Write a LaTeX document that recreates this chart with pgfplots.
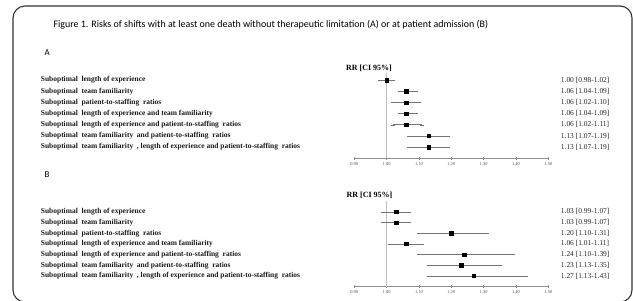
\documentclass[border=0pt]{standalone}
\usepackage{pgfplots}
\pgfplotsset{compat=1.18}
\usepackage{pgfplotstable}
\usepackage{fontspec}
\setmainfont{Liberation Serif}
\newfontfamily\calibri{Carlito}

\pgfplotstableread{
row rr lo hi
-1 1.00 0.98 1.02
-2 1.06 1.04 1.09
-3 1.06 1.02 1.10
-4 1.06 1.04 1.09
-5 1.06 1.02 1.11
-6 1.13 1.07 1.19
-7 1.13 1.07 1.19
}\dataA
\pgfplotstableread{
row rr lo hi
-1 1.03 0.99 1.07
-2 1.03 0.99 1.07
-3 1.20 1.10 1.31
-4 1.06 1.01 1.11
-5 1.24 1.10 1.39
-6 1.23 1.13 1.35
-7 1.27 1.13 1.43
}\dataB

\pgfplotsset{
  forest/.style={
    scale only axis, width=194bp,
    xmin=0.9, xmax=1.5, ymin=-8,
    clip=false,
    axis x line=bottom, axis y line=none,
    x axis line style={-, draw=black!45, line width=0.6bp},
    xtick={0.9,1.0,1.1,1.2,1.3,1.4,1.5},
    xticklabel style={font=\fontsize{4.5}{5}\selectfont, text=black!70, /pgf/number format/.cd, fixed, fixed zerofill, precision=2},
    /pgf/number format/assume math mode=true,
    major tick length=2.5bp, tick align=center,
    tick style={draw=black!45, line width=0.5bp},
    xticklabel shift=-1bp,
  },
  fp/.style={only marks, mark=square*, mark size=1.7bp, black,
    error bars/.cd, x dir=both, x explicit,
    error bar style={black!55, line width=0.6bp},
    error mark options={black!55, line width=0.5bp, mark size=2bp}},
}

\begin{document}
\begin{tikzpicture}[x=1bp,y=1bp]
\path[use as bounding box] (0,0) rectangle (633,-300);
\begin{scope}
\clip (0,0) rectangle (633,-300);
\draw[line width=1.1bp, draw=black!80, rounded corners=12bp] (13,-6) rectangle (632,-302);
\end{scope}

\node[anchor=west, font=\calibri\fontsize{10}{12}\selectfont] at (50,-25) {Figure 1. Risks of shifts with at least one death without therapeutic limitation (A) or at patient admission (B)};
\node[anchor=west, font=\calibri\fontsize{9}{11}\selectfont] at (41,-53) {A};
\node[anchor=west, font=\calibri\fontsize{9}{11}\selectfont] at (41,-175) {B};

% Panel A
\begin{axis}[forest, at={(354.3bp,-158.3bp)}, anchor=south west, height=84.9bp, ymax=-0.4]
\addplot[black!25, line width=0.6bp] coordinates {(1,-8) (1,-0.4)};
\addplot[fp] table[x=rr, y=row, x error plus expr=\thisrow{hi}-\thisrow{rr}, x error minus expr=\thisrow{rr}-\thisrow{lo}] {\dataA};
\end{axis}

% Panel B
\begin{axis}[forest, at={(354.3bp,-286.6bp)}, anchor=south west, height=85.4bp, ymax=0]
\addplot[black!25, line width=0.6bp] coordinates {(1,-8) (1,0)};
\addplot[fp] table[x=rr, y=row, x error plus expr=\thisrow{hi}-\thisrow{rr}, x error minus expr=\thisrow{rr}-\thisrow{lo}] {\dataB};
\end{axis}

\node[anchor=west, font=\bfseries\fontsize{8}{9}\selectfont, inner sep=0pt] at (346,-68.3) {RR [CI 95\%]};
\node[anchor=west, font=\bfseries\fontsize{8}{9}\selectfont, inner sep=0pt] at (346.5,-195.7) {RR [CI 95\%]};

\begin{scope}[every node/.style={anchor=west, inner sep=0pt, font=\bfseries\fontsize{7.5}{8}\selectfont, text=black!90}]
\foreach \y/\t in {80.1/{Suboptimal\ \ length of experience},
  91.3/{Suboptimal\ \ team familiarity},
  102.5/{Suboptimal\ \ patient-to-staffing\ \ ratios},
  113.6/{Suboptimal\ \ length of experience and\ team familiarity},
  124.8/{Suboptimal\ \ length of experience and patient-to-staffing\ \ ratios},
  136.0/{Suboptimal\ \ team familiarity\ \ and patient-to-staffing\ \ ratios},
  147.1/{Suboptimal\ \ team familiarity\ \ , length of experience and patient-to-staffing\ \ ratios},
  211.9/{Suboptimal\ \ length of experience},
  222.6/{Suboptimal\ \ team familiarity},
  233.3/{Suboptimal\ \ patient-to-staffing\ \ ratios},
  243.9/{Suboptimal\ \ length of experience and\ team familiarity},
  254.6/{Suboptimal\ \ length of experience and patient-to-staffing\ \ ratios},
  265.3/{Suboptimal\ \ team familiarity\ \ and patient-to-staffing\ \ ratios},
  275.9/{Suboptimal\ \ team familiarity\ \ , length of experience and patient-to-staffing\ \ ratios}}
  \node at (40.7,-\y) {\t};
\end{scope}

\begin{scope}[every node/.style={anchor=west, inner sep=0pt, font=\fontsize{7.5}{8}\selectfont, text=black!85}]
\foreach \y/\t in {80.1/{1.00 [0.98-1.02]}, 91.3/{1.06 [1.04-1.09]}, 102.5/{1.06 [1.02-1.10]},
  113.6/{1.06 [1.04-1.09]}, 124.8/{1.06 [1.02-1.11]}, 136.0/{1.13 [1.07-1.19]}, 147.1/{1.13 [1.07-1.19]},
  211.9/{1.03 [0.99-1.07]}, 222.6/{1.03 [0.99-1.07]}, 233.3/{1.20 [1.10-1.31]},
  243.9/{1.06 [1.01-1.11]}, 254.6/{1.24 [1.10-1.39]}, 265.3/{1.23 [1.13-1.35]}, 275.9/{1.27 [1.13-1.43]}}
  \node at (560.7,-\y) {\t};
\end{scope}
\end{tikzpicture}
\end{document}
